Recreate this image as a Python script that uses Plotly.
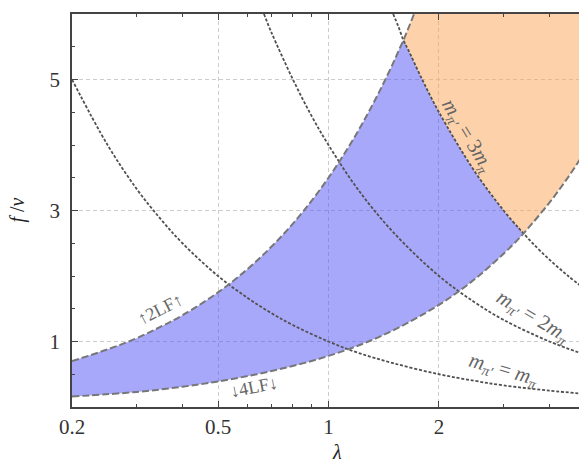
import math
import plotly.graph_objects as go

# values
# lower bound (4LF) and upper bound (2LF) of the allowed band
lam_lower = [0.2, 0.3, 0.4, 0.5, 0.7, 1.0, 1.4, 2.0, 2.5, 3.0, 3.3, 3.4, 3.5, 4.0, 4.5, 5.0]
f_lower = [0.16, 0.23, 0.31, 0.39, 0.55, 0.78, 1.09, 1.56, 1.95, 2.34, 2.57, 2.65, 2.73, 3.12, 3.51, 3.9]

lam_upper = [0.2, 0.25, 0.3, 0.35, 0.4, 0.5, 0.6, 0.7, 0.8, 0.9, 1.0, 1.1, 1.2, 1.3, 1.4, 1.5, 1.55, 1.6, 1.65, 1.71]
f_upper = [0.70, 0.88, 1.05, 1.23, 1.40, 1.75, 2.10, 2.45, 2.80, 3.15, 3.50, 3.85, 4.20, 4.55, 4.90, 5.25, 5.43, 5.60, 5.78, 6.0]

# m_pi' = n m_pi contours
lam_m1 = [0.2, 0.25, 0.3, 0.35, 0.4, 0.5, 0.6, 0.7, 0.8, 1.0, 1.2, 1.5, 2.0, 2.5, 3.0, 4.0, 5.0]
f_m1 = [5.0, 4.0, 3.33, 2.86, 2.5, 2.0, 1.67, 1.43, 1.25, 1.0, 0.83, 0.67, 0.5, 0.4, 0.33, 0.25, 0.2]

lam_m2 = [0.667, 0.7, 0.8, 0.9, 1.0, 1.2, 1.5, 2.0, 2.5, 3.0, 4.0, 5.0]
f_m2 = [6.0, 5.71, 5.0, 4.44, 4.0, 3.33, 2.67, 2.0, 1.6, 1.33, 1.0, 0.8]

lam_m3 = [1.5, 1.55, 1.6, 1.65, 1.8, 2.0, 2.5, 3.0, 3.3, 3.4, 3.6, 4.0, 4.5, 5.0]
f_m3 = [6.0, 5.81, 5.6, 5.45, 5.0, 4.5, 3.6, 3.0, 2.73, 2.65, 2.5, 2.25, 2.0, 1.8]

x_ticks = [0.2, 0.5, 1, 2, 5]
x_minor = [0.3, 0.4, 0.6, 0.7, 0.8, 0.9, 3, 4]
y_ticks = [1, 3, 5]

X_MIN, X_MAX = 0.2, 5.0
Y_MIN, Y_MAX = 0.0, 6.0
LAM_TIP = 1.6      # upper bound meets m_pi' = 3 m_pi
LAM_KNEE = 3.4     # lower bound meets m_pi' = 3 m_pi

SERIF = "Liberation Serif, DejaVu Serif, serif"
BLUE = "rgba(82,82,245,0.5)"
ORANGE = "rgba(251,166,86,0.5)"


def pick(xs, ys, cond):
    pts = [(x, y) for x, y in zip(xs, ys) if cond(x)]
    return [p[0] for p in pts], [p[1] for p in pts]


fig = go.Figure()

# blue band: between lower bound and min(upper bound, 3 m_pi contour)
bx_lo, by_lo = pick(lam_lower, f_lower, lambda l: l <= LAM_KNEE)
ux, uy = pick(lam_upper, f_upper, lambda l: l <= LAM_TIP)
mx, my = pick(lam_m3, f_m3, lambda l: LAM_TIP < l <= LAM_KNEE)
fig.add_trace(go.Scatter(x=bx_lo, y=by_lo, mode="lines", line=dict(width=0, shape="spline")))
fig.add_trace(go.Scatter(x=ux + mx, y=uy + my, mode="lines", line=dict(width=0, shape="spline"),
                         fill="tonexty", fillcolor=BLUE))

# orange band: right of the 3 m_pi contour
cx, cy = pick(lam_m3, f_m3, lambda l: LAM_TIP <= l <= LAM_KNEE)
lx, ly = pick(lam_lower, f_lower, lambda l: l > LAM_KNEE)
fig.add_trace(go.Scatter(x=cx + lx, y=cy + ly, mode="lines", line=dict(width=0, shape="spline")))
tx, ty = pick(lam_upper, f_upper, lambda l: l >= LAM_TIP)
fig.add_trace(go.Scatter(x=tx + [X_MAX, X_MAX], y=ty + [Y_MAX, f_lower[-1]], mode="lines",
                         line=dict(width=0), fill="tonexty", fillcolor=ORANGE))

# contour lines
for xs, ys in [(lam_m1, f_m1), (lam_m2, f_m2), (lam_m3, f_m3)]:
    fig.add_trace(go.Scatter(x=xs, y=ys, mode="lines",
                             line=dict(color="#505050", width=1.8, dash="3px,1.8px", shape="spline")))
for xs, ys in [(lam_upper, f_upper), (lam_lower, f_lower)]:
    fig.add_trace(go.Scatter(x=xs, y=ys, mode="lines",
                             line=dict(color="#777777", width=2, dash="7px,3px", shape="spline")))

# curve labels (log axis: annotation x is given in log10 units)
label_font = dict(family=SERIF, size=21, color="#666666")
for x, y, text, angle in [
    (2.39, 4.13, "<i>m</i><sub><i>π′</i></sub> = 3<i>m</i><sub><i>π</i></sub>", 59),
    (3.61, 1.37, "<i>m</i><sub><i>π′</i></sub> = 2<i>m</i><sub><i>π</i></sub>", 31),
    (3.0, 0.57, "<i>m</i><sub><i>π′</i></sub> = <i>m</i><sub><i>π</i></sub>", 16),
]:
    fig.add_annotation(x=math.log10(x), y=y, xref="x", yref="y", text=text, textangle=angle,
                       showarrow=False, font=label_font)
small_font = dict(family=SERIF, size=18, color="#666666")
fig.add_annotation(x=math.log10(0.348), y=1.5, text="↑2LF↑", textangle=-27, showarrow=False, font=small_font)
fig.add_annotation(x=math.log10(0.625), y=0.30, text="↓4LF↓", textangle=-11, showarrow=False, font=small_font)

# axis titles
title_font = dict(family=SERIF, size=20, color="#222222")
fig.add_annotation(x=0.5166, y=-0.115, xref="paper", yref="paper", text="<i>λ</i>",
                   xanchor="center", yanchor="middle", showarrow=False, font=title_font)
fig.add_annotation(x=-0.107, y=0.50, xref="paper", yref="paper", text="<i>f</i> /<i>v</i>",
                   xanchor="center", yanchor="middle", textangle=-90, showarrow=False, font=title_font)

axis_common = dict(
    showline=True, linecolor="#444444", linewidth=1.6, mirror="ticks",
    ticks="inside", ticklen=6, tickcolor="#444444", tickwidth=1.2,
    showgrid=True, gridcolor="#cccccc", griddash="4px,3px", gridwidth=1,
    zeroline=False, tickfont=dict(family=SERIF, size=21, color="#333333"),
    ticklabeloverflow="allow",
)
fig.update_xaxes(type="log", range=[math.log10(X_MIN), math.log10(X_MAX) + 1e-6], tickvals=x_ticks,
                 ticktext=[str(v) for v in x_ticks], ticklabelstandoff=0,
                 minor=dict(tickvals=x_minor, ticks="inside", ticklen=3, tickcolor="#444444", showgrid=False),
                 **axis_common)
fig.update_yaxes(range=[Y_MIN, Y_MAX], tickvals=y_ticks, ticklabelstandoff=6,
                 minor=dict(dtick=0.5, tick0=0, ticks="inside", ticklen=3, tickcolor="#444444", showgrid=False),
                 **axis_common)

# the page body adds an 8px offset, so the margins are shifted to compensate
fig.update_layout(
    width=587, height=461,
    margin=dict(l=64, r=10, t=4, b=62),
    paper_bgcolor="white", plot_bgcolor="white",
    showlegend=False,
)

fig.write_html("out.html")
